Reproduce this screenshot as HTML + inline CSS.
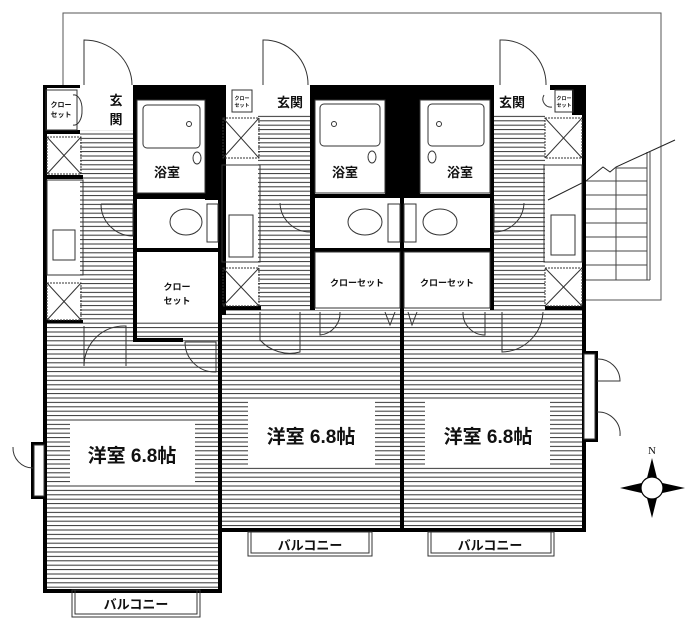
<!DOCTYPE html>
<html><head><meta charset="utf-8"><style>
html,body{margin:0;padding:0;background:#fff;}
svg{display:block;}
text{font-family:"Liberation Sans","Noto Sans CJK JP",sans-serif;font-weight:bold;fill:#111;}
</style></head><body>
<svg width="700" height="638" viewBox="0 0 700 638" xmlns="http://www.w3.org/2000/svg">
<defs>
<pattern id="s" width="10" height="4.4" patternUnits="userSpaceOnUse"><line x1="0" y1="2" x2="10" y2="2" stroke="#333" stroke-width="1"/></pattern>
</defs>
<polyline points="63,85 63,13 661,13 661,300 586,300" fill="none" stroke="#555" stroke-width="1"/>
<g stroke="#444" stroke-width="1" fill="none">
<line x1="647" y1="152" x2="647" y2="280"/><line x1="650" y1="152" x2="650" y2="280"/>
<line x1="616" y1="168" x2="616" y2="280"/>
<line x1="586" y1="181" x2="647" y2="181"/><line x1="586" y1="195" x2="647" y2="195"/><line x1="586" y1="209" x2="647" y2="209"/><line x1="586" y1="223" x2="647" y2="223"/><line x1="586" y1="237" x2="647" y2="237"/><line x1="586" y1="251" x2="647" y2="251"/><line x1="586" y1="265" x2="647" y2="265"/><line x1="616" y1="168" x2="647" y2="168"/>
<line x1="586" y1="280" x2="650" y2="280"/>
<polyline points="548,200 586,181 603,167 610,172 616,167 675,140" stroke="#222"/>
</g>
<g fill="url(#s)">
<rect x="80" y="130" width="55" height="192"/>
<rect x="46" y="322" width="172" height="268"/>
<rect x="258" y="115" width="52" height="195"/>
<rect x="221" y="310" width="181" height="220"/>
<rect x="493" y="115" width="52" height="195"/>
<rect x="402" y="310" width="182" height="220"/>
</g>
<g fill="#fff">
<rect x="70" y="422" width="125" height="63"/>
<rect x="248" y="400" width="127" height="65"/>
<rect x="425" y="400" width="125" height="65"/>
</g>
<g fill="#000">
<rect x="43" y="85" width="4" height="508"/>
<rect x="43" y="85" width="37" height="3"/>
<rect x="133" y="85" width="90" height="15"/>
<rect x="133" y="85" width="4" height="255"/>
<rect x="205" y="85" width="17" height="115"/>
<rect x="133" y="193" width="89" height="6"/>
<rect x="133" y="248" width="89" height="4"/>
<rect x="133" y="338" width="50" height="4"/>
<rect x="218" y="85" width="4" height="508"/>
<rect x="43" y="589" width="179" height="4"/>
<rect x="310" y="85" width="183" height="15"/>
<rect x="385" y="85" width="35" height="112"/>
<rect x="310" y="85" width="5" height="225"/>
<rect x="490" y="85" width="4" height="225"/>
<rect x="311" y="194" width="182" height="4"/>
<rect x="311" y="248" width="182" height="4"/>
<rect x="400" y="194" width="4" height="338"/>
<rect x="550" y="85" width="36" height="5"/>
<rect x="572" y="85" width="14" height="30"/>
<rect x="582" y="85" width="4" height="268"/>
<rect x="582" y="440" width="4" height="92"/>
<rect x="221" y="528" width="365" height="4"/>
<rect x="43" y="320" width="40" height="3"/>
<rect x="221" y="306" width="40" height="4"/>
<rect x="545" y="306" width="41" height="4"/>
<rect x="221" y="85" width="5" height="230"/>
<rect x="43" y="130" width="37" height="4"/>
<rect x="43" y="175" width="40" height="4"/>
<rect x="31" y="442" width="16" height="57"/>
<rect x="582" y="351" width="16" height="91"/>
</g>
<rect x="34" y="445" width="10" height="51" fill="#fff" stroke="#333"/>
<rect x="584" y="354" width="11" height="85" fill="#fff" stroke="#333"/>
<g fill="none" stroke="#333" stroke-width="1">
<rect x="46" y="90" width="31" height="40"/>
<rect x="47" y="137" width="34" height="37" stroke-dasharray="2,1"/>
<line x1="47" y1="137" x2="81" y2="174"/><line x1="81" y1="137" x2="47" y2="174"/>
<rect x="47" y="180" width="36" height="95"/><rect x="53" y="230" width="22" height="30"/>
<rect x="47" y="283" width="34" height="37" stroke-dasharray="2,1"/>
<line x1="47" y1="283" x2="81" y2="320"/><line x1="81" y1="283" x2="47" y2="320"/>
<rect x="137" y="100" width="68" height="93"/><rect x="143" y="105" width="57" height="43" rx="4"/><circle cx="189" cy="124" r="2.5"/>
<ellipse cx="197" cy="158" rx="4" ry="6"/>
<ellipse cx="186" cy="222" rx="16" ry="13"/><rect x="207" y="204" width="11" height="38"/>
<path d="M84,85 L84,40 A48,45 0 0 1 132,85"/>
<path d="M101,204 L133,204 L133,236 A32,32 0 0 1 101,204"/>
<path d="M84,326 L84,366 A40,40 0 0 1 126,326 L126,366"/>
<path d="M185,342 L216,342 L216,372 A30,30 0 0 1 185,342"/>
<path d="M13,447 A20,20 0 0 0 33,468"/>
<rect x="72" y="590" width="128" height="27"/><rect x="75" y="590" width="122" height="24"/>
<rect x="232" y="90" width="20" height="22"/>
<path d="M263,85 L263,40 A44,44 0 0 1 308,85"/>
<rect x="223" y="118" width="36" height="40" stroke-dasharray="2,1"/>
<line x1="223" y1="118" x2="259" y2="158"/><line x1="259" y1="118" x2="223" y2="158"/>
<rect x="222" y="165" width="38" height="97"/><rect x="229" y="215" width="24" height="42"/>
<rect x="223" y="268" width="36" height="38" stroke-dasharray="2,1"/>
<line x1="223" y1="268" x2="259" y2="306"/><line x1="259" y1="268" x2="223" y2="306"/>
<path d="M280,203 A30,30 0 0 0 310,232"/>
<rect x="315" y="100" width="70" height="93"/><rect x="320" y="104" width="60" height="42" rx="4"/><circle cx="334" cy="124" r="2.5"/>
<ellipse cx="372" cy="157" rx="4" ry="6"/>
<ellipse cx="365" cy="222" rx="17" ry="13"/><rect x="388" y="204" width="12" height="38"/>
<ellipse cx="440" cy="222" rx="17" ry="13"/><rect x="404" y="204" width="12" height="38"/>
<rect x="315" y="252" width="85" height="56"/><rect x="404" y="252" width="86" height="56"/>
<path d="M260,312 L260,340 A40,40 0 0 0 300,352 L300,312"/>
<path d="M320,312 L320,335 A22,22 0 0 0 340,312"/>
<path d="M385,312 L390,325 L395,312 M408,312 L412,325 L417,312"/>
<path d="M463,312 A22,22 0 0 0 485,335 L485,312"/>
<rect x="248" y="532" width="124" height="24"/><rect x="251" y="532" width="118" height="21"/>
<rect x="420" y="100" width="70" height="93"/><rect x="428" y="104" width="56" height="42" rx="4"/><circle cx="439" cy="124" r="2.5"/>
<ellipse cx="432" cy="157" rx="4" ry="6"/>
<path d="M500,85 L500,40 A44,44 0 0 1 546,85"/>
<rect x="555" y="90" width="18" height="22"/>
<path d="M544,95 A8,8 0 0 0 552,107"/>
<rect x="545" y="118" width="37" height="40" stroke-dasharray="2,1"/>
<line x1="545" y1="118" x2="582" y2="158"/><line x1="582" y1="118" x2="545" y2="158"/>
<rect x="544" y="165" width="38" height="97"/><rect x="551" y="215" width="24" height="40"/>
<rect x="545" y="268" width="37" height="38" stroke-dasharray="2,1"/>
<line x1="545" y1="268" x2="582" y2="306"/><line x1="582" y1="268" x2="545" y2="306"/>
<path d="M494,203 L494,232 A30,30 0 0 0 524,203"/>
<path d="M502,312 L502,352 A42,42 0 0 0 543,312"/>
<path d="M597,359 A22,22 0 0 1 620,381 L597,381"/><path d="M597,412 A22,22 0 0 1 620,436"/>
<rect x="428" y="532" width="126" height="24"/><rect x="431" y="532" width="120" height="21"/>
<path d="M73,95 A8,14 0 0 1 82,110 A8,14 0 0 1 73,125"/>
</g>
<g>
<polygon points="652,458 646,482 652,488 658,482" fill="#000"/>
<polygon points="652,518 646,494 652,488 658,494" fill="#000"/>
<polygon points="620,488 646,482 652,488 646,494" fill="#000"/>
<polygon points="685,488 658,482 652,488 658,494" fill="#000"/>
<circle cx="652" cy="488" r="11" fill="#fff" stroke="#000" stroke-width="1.2"/>
<text x="652" y="454" font-size="11" text-anchor="middle" style="font-family:'Liberation Serif',serif;font-weight:normal">N</text>
</g>
<g text-anchor="middle">
<text x="61" y="107" font-size="7">クロー</text><text x="61" y="117" font-size="7">セット</text>
<text x="116" y="105" font-size="13">玄</text><text x="116" y="124" font-size="13">関</text>
<text x="167" y="177" font-size="13">浴室</text>
<text x="177" y="290" font-size="9">クロー</text><text x="177" y="304" font-size="9">セット</text>
<text x="132" y="462" font-size="19">洋室 6.8帖</text>
<text x="136" y="609" font-size="13">バルコニー</text>
<text x="242" y="100" font-size="5">クロー</text><text x="242" y="107" font-size="5">セット</text>
<text x="290" y="107" font-size="13">玄関</text>
<text x="345" y="177" font-size="13">浴室</text>
<text x="357" y="286" font-size="9">クローセット</text>
<text x="447" y="286" font-size="9">クローセット</text>
<text x="311" y="443" font-size="19">洋室 6.8帖</text>
<text x="310" y="550" font-size="13">バルコニー</text>
<text x="512" y="107" font-size="13">玄関</text>
<text x="564" y="100" font-size="5">クロー</text><text x="564" y="107" font-size="5">セット</text>
<text x="460" y="177" font-size="13">浴室</text>
<text x="488" y="443" font-size="19">洋室 6.8帖</text>
<text x="490" y="550" font-size="13">バルコニー</text>
</g>
</svg>
</body></html>
